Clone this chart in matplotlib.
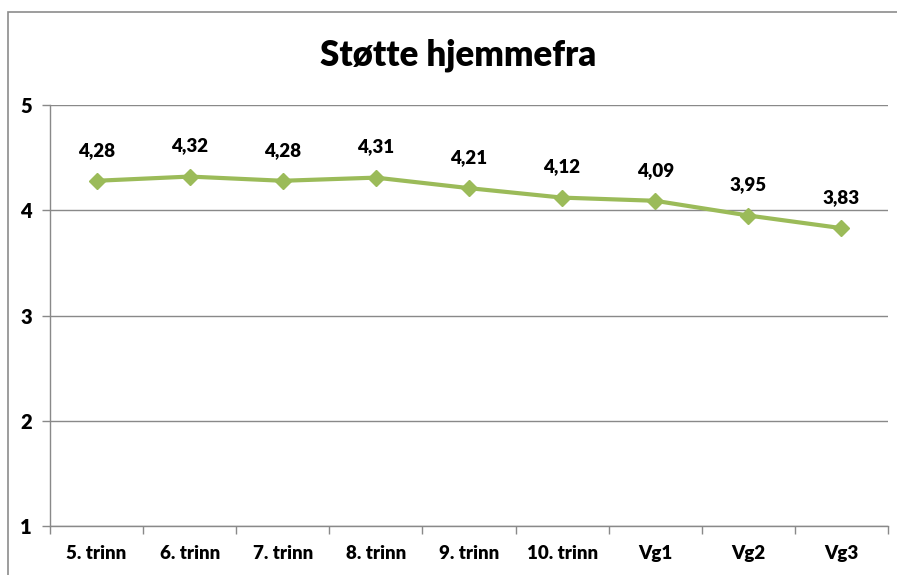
import matplotlib.pyplot as plt
from matplotlib.patches import Rectangle

# Values
trinn = ['5. trinn', '6. trinn', '7. trinn', '8. trinn', '9. trinn',
         '10. trinn', 'Vg1', 'Vg2', 'Vg3']
stotte = [4.28, 4.32, 4.28, 4.31, 4.21, 4.12, 4.09, 3.95, 3.83]
yticks = [1, 2, 3, 4, 5]

green = '#9BBB59'
grey = '#898989'

plt.rcParams['font.family'] = ['Lato', 'DejaVu Sans']


def do_plot():
    fig = plt.figure(figsize=(8.97, 5.75), dpi=100)
    # outer chart frame (left/top visible)
    fig.patches.append(Rectangle((8 / 897, -0.1), 1.2, (575 - 12) / 575 + 0.1,
                                 transform=fig.transFigure, fill=False,
                                 edgecolor='#8c8c8c', lw=1.2))
    ax = fig.add_axes([50 / 897, 49 / 575, 838 / 897, 421 / 575])
    x = list(range(len(trinn)))
    ax.plot(x, stotte, '-D', color=green, lw=3, markersize=8, zorder=3)
    for xi, v in zip(x, stotte):
        ax.annotate(('%.2f' % v).replace('.', ','), (xi, v),
                    xytext=(0, 22), textcoords='offset points',
                    ha='center', va='center', fontsize=13.5, fontweight='heavy')

    ax.set_xlim(-0.5, len(trinn) - 0.5)
    ax.set_ylim(1, 5)
    ax.set_yticks(yticks)
    ax.set_yticklabels([str(t) for t in yticks], fontsize=14.5, fontweight='heavy')
    ax.yaxis.grid(True, color=grey, lw=1)
    ax.set_axisbelow(True)

    ax.set_xticks(x)
    ax.set_xticklabels(trinn, fontsize=13.5, fontweight='heavy')
    ax.set_xticks([i - 0.5 for i in range(len(trinn) + 1)], minor=True)
    ax.tick_params(axis='x', which='major', length=0, pad=14)
    ax.tick_params(axis='x', which='minor', length=6, color=grey, width=1)
    ax.tick_params(axis='y', length=6, color=grey, width=1, pad=7)

    for s in ['top', 'right']:
        ax.spines[s].set_visible(False)
    for s in ['left', 'bottom']:
        ax.spines[s].set_color(grey)
        ax.spines[s].set_linewidth(1)

    fig.text(458 / 897, 1 - 55 / 575, 'Støtte hjemmefra', ha='center',
             va='center', fontsize=25, fontweight='heavy')
    fig.savefig('out.png', dpi=100)


if __name__ == '__main__':
    do_plot()
